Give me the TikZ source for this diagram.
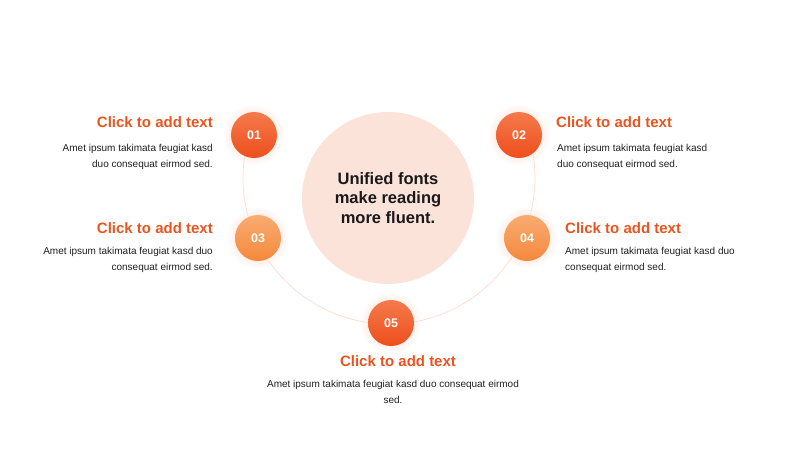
\documentclass[tikz,border=0pt]{standalone}
\usepackage{fontspec}
\setmainfont{Liberation Sans}
\usetikzlibrary{positioning}
\definecolor{hotA}{HTML}{F57A4C}
\definecolor{hotB}{HTML}{EE4E1C}
\definecolor{softA}{HTML}{F9AC72}
\definecolor{softB}{HTML}{F5883C}
\definecolor{hubfill}{HTML}{FCE3DA}
\definecolor{ringline}{HTML}{FADCD0}
\definecolor{headline}{HTML}{EA5420}
\definecolor{glowc}{HTML}{F7A684}
\tikzset{
    x=1pt, y=-1pt,
    num/.style={
        circle,
        minimum size=46pt,
        inner sep=0pt,
        text=white,
        font=\fontsize{12.5}{14}\selectfont\bfseries
    },
    hot/.style={num, top color=hotA, bottom color=hotB},
    soft/.style={num, top color=softA, bottom color=softB},
    hub/.style={
        circle,
        fill=hubfill,
        minimum size=172pt,
        align=center,
        text=black!90,
        font=\fontsize{16.5}{19.5}\selectfont\bfseries
    },
    title/.style={
        inner sep=0pt,
        text=headline,
        font=\fontsize{15}{18}\selectfont\bfseries
    },
    body/.style={
        inner sep=0pt,
        text=black!88,
        font=\fontsize{10}{16}\selectfont
    },
    ring/.style={draw=ringline, line width=0.7pt},
    glow/.style={fill=glowc, opacity=0.045}
}
\begin{document}
\begin{tikzpicture}
    \useasboundingbox (0,0) rectangle (800,450);
    \coordinate (p1) at (254,135);
    \coordinate (p2) at (519,135);
    \coordinate (p3) at (258,238);
    \coordinate (p4) at (527,238);
    \coordinate (p5) at (391,323);
    \coordinate (arcc) at (389,178);

    % soft glow under the numbers
    \foreach \p in {p1,p2,p3,p4,p5}
        \foreach \r in {20,22,...,30}
            \fill[glow, xshift=3pt, yshift=-6pt] (\p) circle (\r pt);

    \draw[ring] (arcc) ++(162:146pt) arc[start angle=162, end angle=378, radius=146pt];

    \node[hub] (hub) at (388,198) {Unified fonts\\make reading\\more fluent.};

    \node[hot]  (n1) at (p1) {01};
    \node[hot]  (n2) at (p2) {02};
    \node[soft] (n3) at (p3) {03};
    \node[soft] (n4) at (p4) {04};
    \node[hot]  (n5) at (p5) {05};

    \node[title, anchor=base east] (t1) at (213,127.5) {Click to add text};
    \node[body, align=right, below=16pt of t1.south east, anchor=north east] (b1) {Amet ipsum takimata feugiat kasd\\duo consequat eirmod sed.};

    \node[title, anchor=base west] (t2) at (556,127.5) {Click to add text};
    \node[body, align=left, below=16pt of t2.south west, anchor=north west, xshift=1pt] (b2) {Amet ipsum takimata feugiat kasd\\duo consequat eirmod sed.};

    \node[title, anchor=base east] (t3) at (213,233.5) {Click to add text};
    \node[body, align=right, below=13pt of t3.south east, anchor=north east] (b3) {Amet ipsum takimata feugiat kasd duo\\consequat eirmod sed.};

    \node[title, anchor=base west] (t4) at (565,233.5) {Click to add text};
    \node[body, align=left, below=13pt of t4.south west, anchor=north west] (b4) {Amet ipsum takimata feugiat kasd duo\\consequat eirmod sed.};

    \node[title, anchor=base] (t5) at (398,366.5) {Click to add text};
    \node[body, align=center, below=13pt of t5.south, xshift=-5pt] (b5) {Amet ipsum takimata feugiat kasd duo consequat eirmod\\sed.};
\end{tikzpicture}
\end{document}
